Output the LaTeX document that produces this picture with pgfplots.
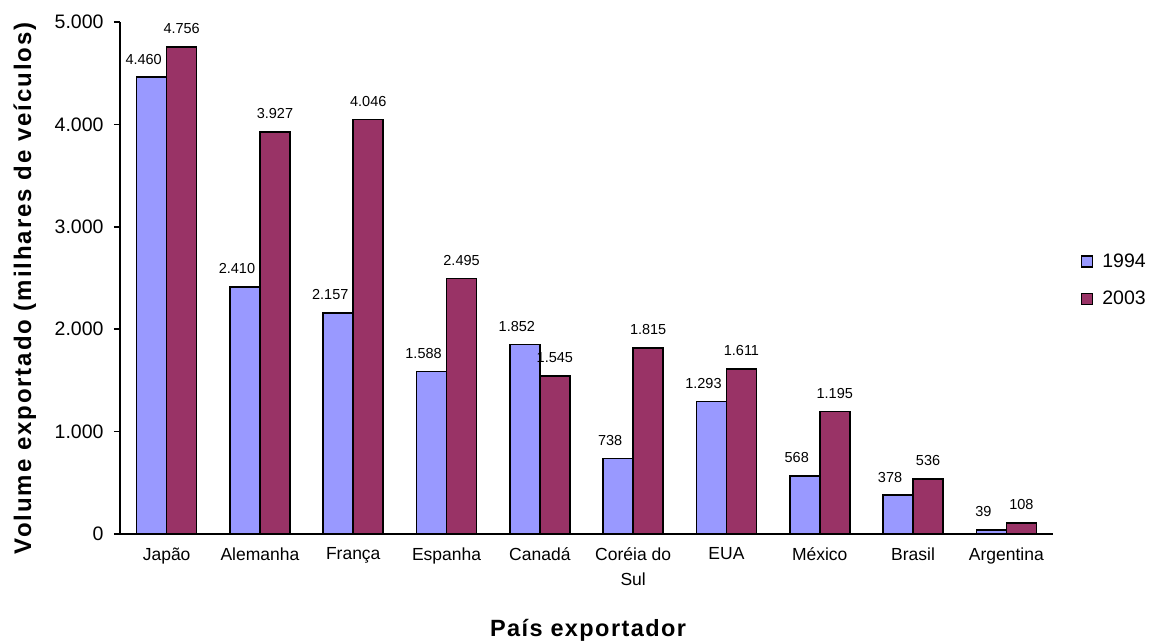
\documentclass[border=0pt]{standalone}
\usepackage{pgfplots}
\pgfplotsset{compat=1.18}
\usepackage{fontspec}
\setmainfont{Liberation Sans}

\definecolor{serieA}{HTML}{9999FF}
\definecolor{serieB}{HTML}{993366}

\begin{document}
\begin{tikzpicture}
% page frame: the plot box sits 120pt from the left and 110pt from the bottom
\useasboundingbox (-120pt,-110pt) rectangle (1039pt,534pt);
\begin{axis}[
  at={(0pt,0pt)}, anchor=south west,
  scale only axis,
  width=933pt, height=512pt,
  ybar=0pt, bar width=30pt,
  xmin=-0.5, xmax=9.5,
  ymin=0, ymax=5000,
  ytick={0,1000,2000,3000,4000,5000},
  xtick={0,...,9},
  xticklabels={Japão,Alemanha,França,Espanha,Canadá,{Coréia do\\Sul},EUA,México,Brasil,Argentina},
  xticklabel style={align=center, font=\fontsize{17.5}{25}\selectfont, yshift=-4pt},
  yticklabel style={font=\fontsize{19.5}{22}\selectfont, xshift=-7pt},
  scaled ticks=false,
  /pgf/number format/.cd, 1000 sep={.}, assume math mode=true, /pgfplots/.cd,
  axis x line*=bottom, axis y line*=left,
  x axis line style={-, line width=1.6pt},
  y axis line style={-, line width=1.6pt},
  major x tick style={draw=none},
  major y tick style={line width=1.6pt, black},
  tick align=outside, major tick length=6pt,
  ylabel={\bfseries\addfontfeatures{LetterSpace=8}Volume exportado (milhares de veículos)},
  ylabel style={at={(axis description cs:-0.102,0.48)}, anchor=center, font=\fontsize{24}{26}\selectfont},
  xlabel={\bfseries\addfontfeatures{LetterSpace=6}País exportador},
  xlabel style={at={(axis description cs:0.5016,-0.188)}, anchor=center, font=\fontsize{23.5}{26}\selectfont},
  legend style={at={(axis description cs:1.030,0.496)}, anchor=west, draw=none,
    font=\fontsize{19.5}{22}\selectfont, row sep=22pt, inner sep=0pt,
    nodes={inner xsep=9pt, inner ysep=0pt}},
  nodes near coords,
  every node near coord/.append style={font=\fontsize{14.5}{16}\selectfont, yshift=9pt},
]
\addplot[fill=serieA, draw=black, line width=1.6pt,
  every node near coord/.append style={xshift=-8pt},
  legend image code/.code={\draw[fill=serieA, draw=black, line width=1.2pt] (0pt,-5.5pt) rectangle (11pt,5.5pt);}]
  coordinates {(0,4460) (1,2410) (2,2157) (3,1588) (4,1852) (5,738) (6,1293) (7,568) (8,378) (9,39)};
\addplot[fill=serieB, draw=black, line width=1.6pt,
  legend image code/.code={\draw[fill=serieB, draw=black, line width=1.2pt] (0pt,-5.5pt) rectangle (11pt,5.5pt);}]
  coordinates {(0,4756) (1,3927) (2,4046) (3,2495) (4,1545) (5,1815) (6,1611) (7,1195) (8,536) (9,108)};
\legend{1994,2003}
\end{axis}
\end{tikzpicture}
\end{document}
